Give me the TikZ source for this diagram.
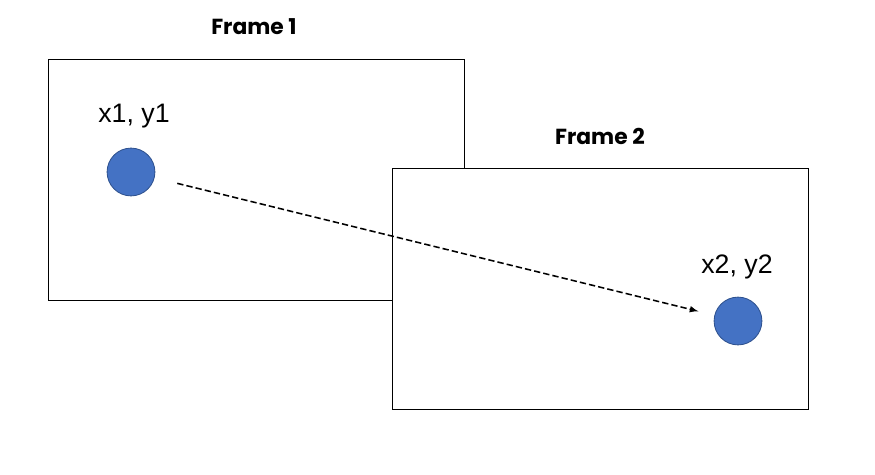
\documentclass[tikz,border=0pt]{standalone}
\usepackage{fontspec}
\setmainfont{Liberation Sans}
\newfontfamily\titlefont{Poppins}
\usetikzlibrary{positioning}
\definecolor{dotblue}{RGB}{68,114,196}
\definecolor{dotedge}{RGB}{47,82,143}

\begin{document}
\begin{tikzpicture}[>=latex, x=0.025cm, y=-0.025cm]

        % Styles
        \tikzset{
            frame/.style={draw=black, line width=0.7pt, fill=white},
            title/.style={font=\titlefont\bfseries\fontsize{15.5}{18}\selectfont},
            dot/.style={circle, draw=dotedge, line width=0.6pt, fill=dotblue, minimum size=34pt, inner sep=0pt},
            coord/.style={font=\fontsize{19}{22}\selectfont},
            track/.style={->, line width=1.1pt, dash pattern=on 4.5pt off 2.2pt}
        }

        \useasboundingbox (0,0) rectangle (875,474);

        % --- FRAME 1 ---
        \node[title] (t1) at (254,27) {Frame 1};
        \draw[frame] (48,59) rectangle (464,300);
        \node[coord] (l1) at (134,116) {x1, y1};
        \node[dot] (d1) at (131,172) {};

        % --- FRAME 2 ---
        \node[title] (t2) at (600,136) {Frame 2};
        \draw[frame] (392,168) rectangle (808,409);
        \node[coord] (l2) at (737,267) {x2, y2};
        \node[dot] (d2) at (738,321) {};

        % --- DEPLACEMENT ---
        \draw[track, shorten <=1.19cm, shorten >=1.02cm] (d1.center) -- (d2.center);

\end{tikzpicture}
\end{document}
